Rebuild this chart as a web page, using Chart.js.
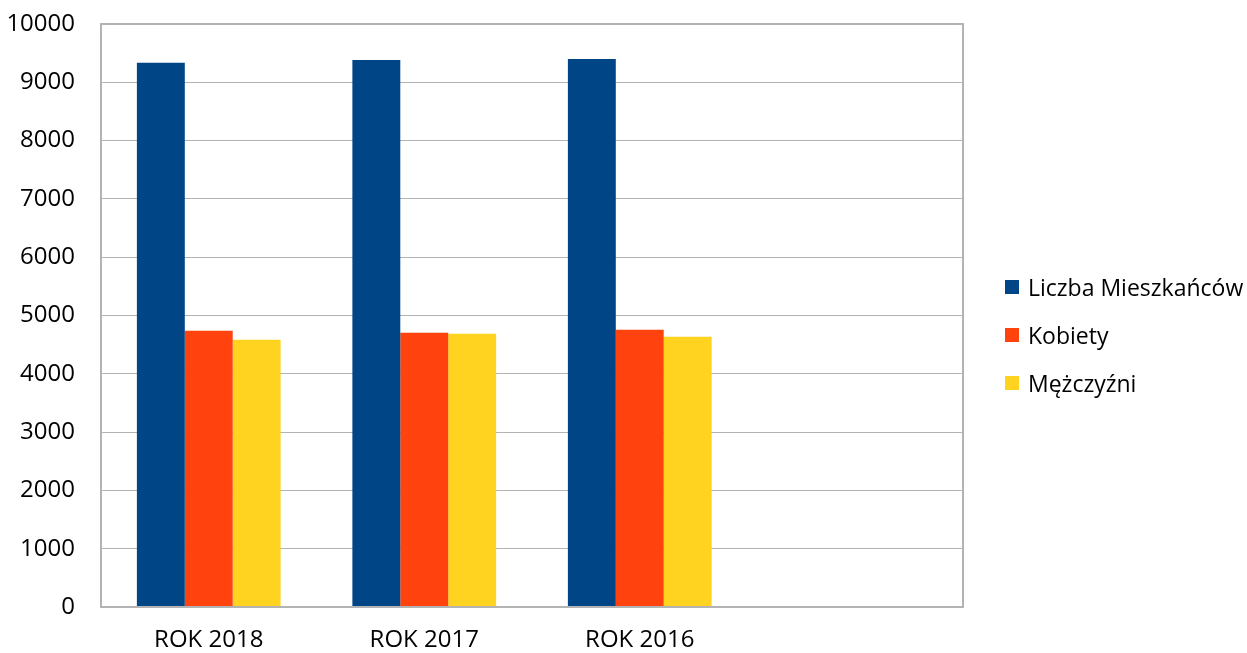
<!DOCTYPE html>
<html>
<head>
<meta charset="utf-8">
<script src="https://cdn.jsdelivr.net/npm/chart.js@4/dist/chart.umd.min.js"></script>
<style>
  html, body { margin: 0; padding: 0; background: #fff; }
  #wrap { position: relative; width: 1247px; height: 653px; }
  #legend { position: absolute; left: 1005px; top: 263px; font-family: 'Open Sans'; font-size: 23px; color: #000; }
  #legend .item { height: 48px; display: flex; align-items: center; white-space: nowrap; }
  #legend .box { width: 14px; height: 14px; margin-right: 9px; }
</style>
</head>
<body>
<div id="wrap"><canvas id="rok-chart"></canvas><div id="legend"></div></div>
<script>
// dane z wykresu
var categories = ["ROK 2018", "ROK 2017", "ROK 2016", ""];
var mieszkancy = [9336, 9383, 9400, null];
var kobiety = [4739, 4704, 4756, null];
var mezczyzni = [4585, 4687, 4636, null];
var yTicks = [0, 1000, 2000, 3000, 4000, 5000, 6000, 7000, 8000, 9000, 10000];

// ramka wokol obszaru wykresu
var frame = {
    id: 'frame',
    afterDraw: function (chart) {
        var a = chart.chartArea, c = chart.ctx;
        c.save();
        c.strokeStyle = "#b3b3b3";
        c.lineWidth = 2;
        c.strokeRect(a.left, a.top, a.right - a.left, a.bottom - a.top);
        c.restore();
    }
};

var ctx = document.getElementById('rok-chart').getContext('2d');
var myChart = new Chart(ctx, {
    type: 'bar',
    data: {
        labels: categories,
        datasets: [
            { label: 'Liczba Mieszkańców', data: mieszkancy, backgroundColor: "#004586" },
            { label: 'Kobiety', data: kobiety, backgroundColor: "#ff420e" },
            { label: 'Mężczyźni', data: mezczyzni, backgroundColor: "#ffd320" }
        ]
    },
    options: {
        responsive: true,
        maintainAspectRatio: false,
        animation: false,
        layout: { autoPadding: false, padding: { top: 24, right: 284, bottom: 0, left: 0 } },
        datasets: { bar: { barPercentage: 1, categoryPercentage: 0.667 } },
        plugins: {
            tooltip: { enabled: false },
            legend: { display: false }
        },
        scales: {
            x: {
                afterFit: function (s) { s.height = 46; },
                grid: { display: false, drawTicks: false },
                border: { display: false },
                ticks: { color: "#000", padding: 20, font: { family: "'Open Sans'", size: 24, lineHeight: 1.1 } }
            },
            y: {
                min: 0,
                max: 10000,
                afterFit: function (s) { s.width = 101; s.paddingTop = 0; },
                afterBuildTicks: function (axis) {
                    axis.ticks = yTicks.map(function (v) { return { value: v }; });
                },
                grid: { color: "#b3b3b3", lineWidth: 1, drawTicks: false },
                border: { display: false },
                ticks: {
                    color: "#000",
                    padding: 26,
                    font: { family: "'Open Sans'", size: 24, lineHeight: 1 },
                    callback: function (v) { return String(v); }
                }
            }
        }
    },
    plugins: [frame]
});

// legenda po prawej
var legend = document.getElementById('legend');
myChart.data.datasets.forEach(function (ds) {
    var item = document.createElement('div');
    item.className = 'item';
    var box = document.createElement('span');
    box.className = 'box';
    box.style.background = ds.backgroundColor;
    item.appendChild(box);
    item.appendChild(document.createTextNode(ds.label));
    legend.appendChild(item);
});
</script>
</body>
</html>
